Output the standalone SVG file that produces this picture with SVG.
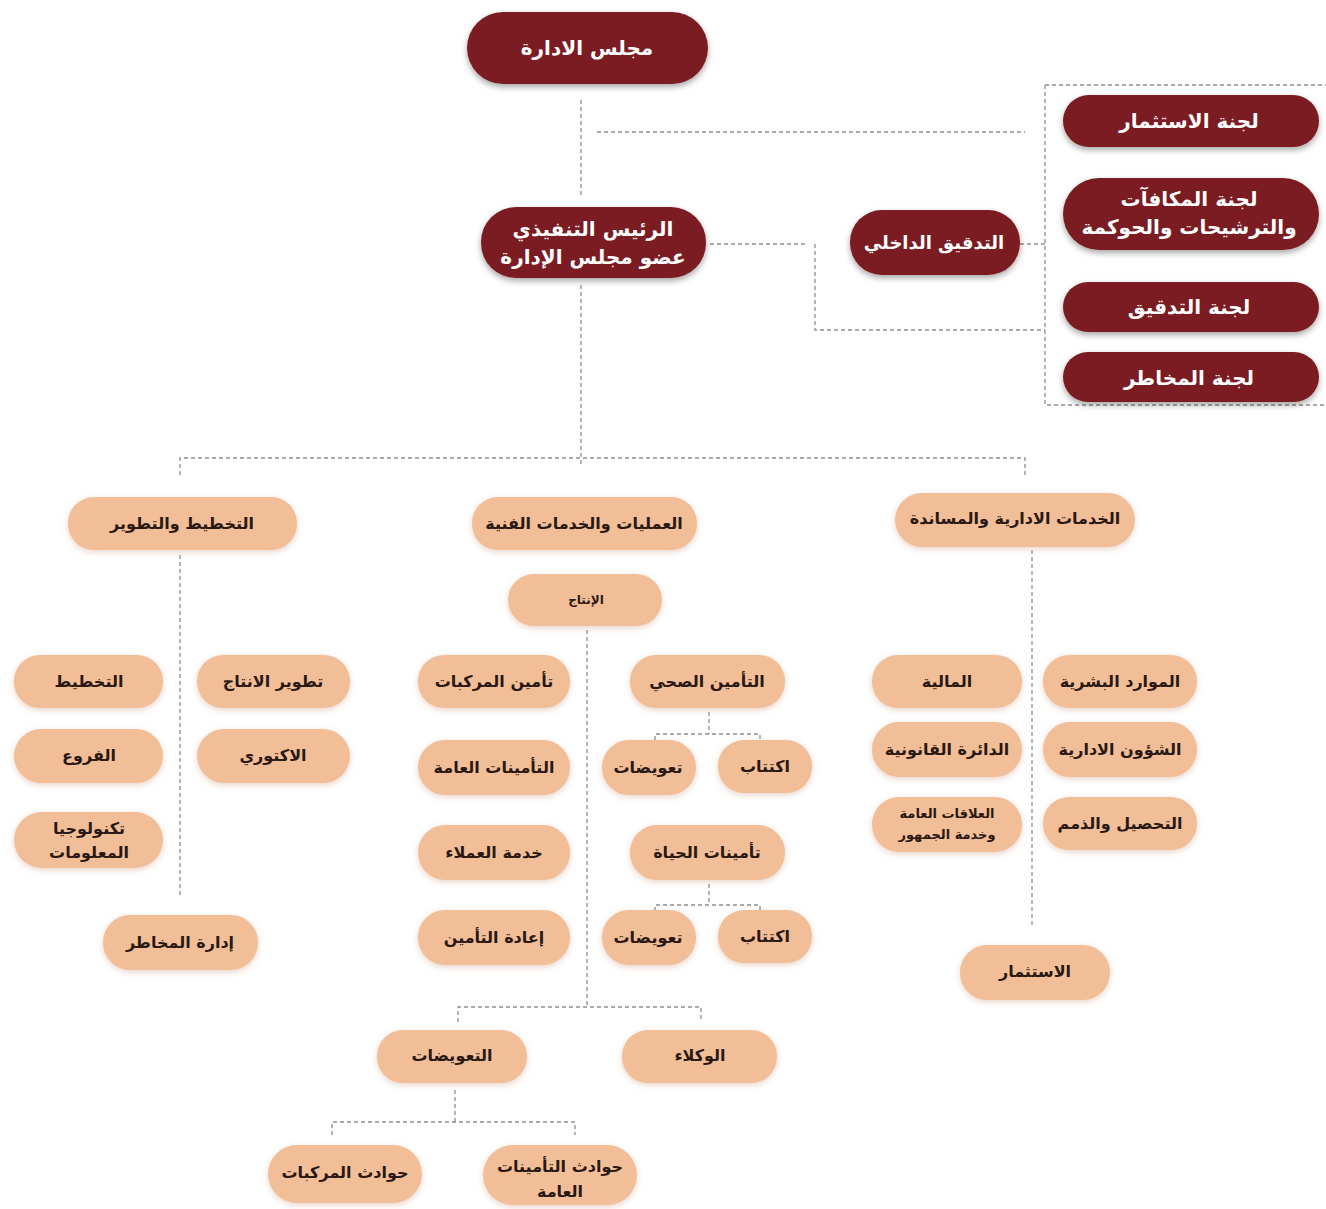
<svg xmlns="http://www.w3.org/2000/svg" width="1326" height="1209" viewBox="0 0 1326 1209">
<style>
.dk rect{fill:#7a1b20;filter:url(#sh)}
.lt rect{fill:#f2be98;filter:url(#sh2)}
text{font-family:"DejaVu Sans","Noto Sans",sans-serif;font-weight:bold;text-anchor:middle;dominant-baseline:central}
.dk text{fill:#ffffff;font-size:20px}
.lt text{fill:#2a1812;font-size:16px}
.cn{fill:none;stroke:#8e8e8e;stroke-width:1.3;stroke-dasharray:4 3}
</style>
<defs>
<filter id="sh" x="-20%" y="-30%" width="140%" height="170%"><feDropShadow dx="0" dy="3" stdDeviation="3" flood-color="#000" flood-opacity="0.35"/></filter>
<filter id="sh2" x="-20%" y="-30%" width="140%" height="170%"><feDropShadow dx="0" dy="2" stdDeviation="3" flood-color="#c08060" flood-opacity="0.35"/></filter>
</defs>
<rect width="1326" height="1209" fill="#ffffff"/>
<g id="connectors">
<path class="cn" d="M581 100V195M581 285V465M597 132H1025M710 244H805M815 244V330H1045M1020 244H1045M1045 85H1326M1045 85V405H1326"/>
<path class="cn" d="M180 475V458H1025V475M180 555V895"/>
<path class="cn" d="M587 630V1007M458 1022V1007H701V1022"/>
<path class="cn" d="M709 712V734M655 740V734H760V740M709 884V905M655 911V905H760V911"/>
<path class="cn" d="M455 1090V1122M332 1135V1122H575V1135"/>
<path class="cn" d="M1032 550V925"/>
</g>
<g id="n-board" class="dk"><rect x="467" y="12" width="241" height="72" rx="36"/><text x="587" y="48">مجلس الادارة</text></g>
<g id="n-ceo" class="dk"><rect x="481" y="207" width="225" height="71" rx="35"/><text x="593" y="229">الرئيس التنفيذي</text><text x="593" y="257">عضو مجلس الإدارة</text></g>
<g id="n-audit" class="dk"><rect x="850" y="210" width="170" height="65" rx="32"/><text x="934" y="242" style="font-size:18px">التدقيق الداخلي</text></g>
<g id="n-c1" class="dk"><rect x="1063" y="95" width="256" height="52" rx="26"/><text x="1189" y="121">لجنة الاستثمار</text></g>
<g id="n-c2" class="dk"><rect x="1063" y="178" width="256" height="72" rx="36"/><text x="1189" y="199">لجنة المكافآت</text><text x="1189" y="227">والترشيحات والحوكمة</text></g>
<g id="n-c3" class="dk"><rect x="1063" y="282" width="256" height="50" rx="25"/><text x="1189" y="307">لجنة التدقيق</text></g>
<g id="n-c4" class="dk"><rect x="1063" y="352" width="256" height="50" rx="25"/><text x="1189" y="378">لجنة المخاطر</text></g>
<g id="n-plan" class="lt"><rect x="68" y="497" width="229" height="53" rx="26"/><text x="182" y="523">التخطيط والتطوير</text></g>
<g id="n-ops" class="lt"><rect x="472" y="497" width="225" height="53" rx="26"/><text x="584" y="523">العمليات والخدمات الفنية</text></g>
<g id="n-adm" class="lt"><rect x="895" y="493" width="240" height="54" rx="27"/><text x="1015" y="518">الخدمات الادارية والمساندة</text></g>
<g id="n-prod" class="lt"><rect x="508" y="574" width="154" height="52" rx="26"/><text x="586" y="600" style="font-size:12px">الإنتاج</text></g>
<g id="n-motor" class="lt"><rect x="418" y="655" width="152" height="53" rx="26"/><text x="494" y="681">تأمين المركبات</text></g>
<g id="n-gen" class="lt"><rect x="418" y="740" width="152" height="55" rx="27"/><text x="494" y="767">التأمينات العامة</text></g>
<g id="n-cust" class="lt"><rect x="418" y="825" width="152" height="55" rx="27"/><text x="494" y="852">خدمة العملاء</text></g>
<g id="n-reins" class="lt"><rect x="418" y="910" width="152" height="55" rx="27"/><text x="494" y="937">إعادة التأمين</text></g>
<g id="n-health" class="lt"><rect x="630" y="655" width="155" height="53" rx="26"/><text x="707" y="681">التأمين الصحي</text></g>
<g id="n-hu" class="lt"><rect x="718" y="740" width="94" height="53" rx="26"/><text x="765" y="766">اكتتاب</text></g>
<g id="n-hc" class="lt"><rect x="602" y="740" width="94" height="55" rx="27"/><text x="648" y="767">تعويضات</text></g>
<g id="n-life" class="lt"><rect x="630" y="825" width="155" height="55" rx="27"/><text x="707" y="852">تأمينات الحياة</text></g>
<g id="n-lu" class="lt"><rect x="718" y="910" width="94" height="53" rx="26"/><text x="765" y="936">اكتتاب</text></g>
<g id="n-lc" class="lt"><rect x="602" y="910" width="94" height="55" rx="27"/><text x="648" y="937">تعويضات</text></g>
<g id="n-claims" class="lt"><rect x="377" y="1030" width="150" height="53" rx="26"/><text x="452" y="1055">التعويضات</text></g>
<g id="n-agents" class="lt"><rect x="622" y="1030" width="155" height="53" rx="26"/><text x="700" y="1055">الوكلاء</text></g>
<g id="n-mot-acc" class="lt"><rect x="268" y="1145" width="154" height="58" rx="29"/><text x="345" y="1172">حوادث المركبات</text></g>
<g id="n-gen-acc" class="lt"><rect x="483" y="1145" width="154" height="60" rx="30"/><text x="560" y="1166">حوادث التأمينات</text><text x="560" y="1191">العامة</text></g>
<g id="n-planning" class="lt"><rect x="14" y="655" width="149" height="53" rx="26"/><text x="89" y="681">التخطيط</text></g>
<g id="n-branches" class="lt"><rect x="14" y="729" width="149" height="54" rx="27"/><text x="89" y="755">الفروع</text></g>
<g id="n-it" class="lt"><rect x="14" y="812" width="149" height="56" rx="28"/><text x="89" y="828">تكنولوجيا</text><text x="89" y="852">المعلومات</text></g>
<g id="n-proddev" class="lt"><rect x="197" y="655" width="153" height="53" rx="26"/><text x="273" y="681">تطوير الانتاج</text></g>
<g id="n-act" class="lt"><rect x="197" y="729" width="153" height="54" rx="27"/><text x="273" y="755">الاكتوري</text></g>
<g id="n-risk" class="lt"><rect x="103" y="915" width="155" height="55" rx="27"/><text x="180" y="942">إدارة المخاطر</text></g>
<g id="n-hr" class="lt"><rect x="1043" y="655" width="154" height="53" rx="26"/><text x="1120" y="681">الموارد البشرية</text></g>
<g id="n-admaff" class="lt"><rect x="1043" y="722" width="154" height="55" rx="27"/><text x="1120" y="749">الشؤون الادارية</text></g>
<g id="n-coll" class="lt"><rect x="1043" y="797" width="154" height="53" rx="26"/><text x="1120" y="823">التحصيل والذمم</text></g>
<g id="n-fin" class="lt"><rect x="872" y="655" width="150" height="53" rx="26"/><text x="947" y="681">المالية</text></g>
<g id="n-legal" class="lt"><rect x="872" y="722" width="150" height="55" rx="27"/><text x="947" y="749">الدائرة القانونية</text></g>
<g id="n-pr" class="lt"><rect x="872" y="797" width="150" height="55" rx="27"/><text x="947" y="813" style="font-size:13px">العلاقات العامة</text><text x="947" y="834" style="font-size:13px">وخدمة الجمهور</text></g>
<g id="n-inv" class="lt"><rect x="960" y="945" width="150" height="55" rx="27"/><text x="1035" y="971">الاستثمار</text></g>
</svg>
